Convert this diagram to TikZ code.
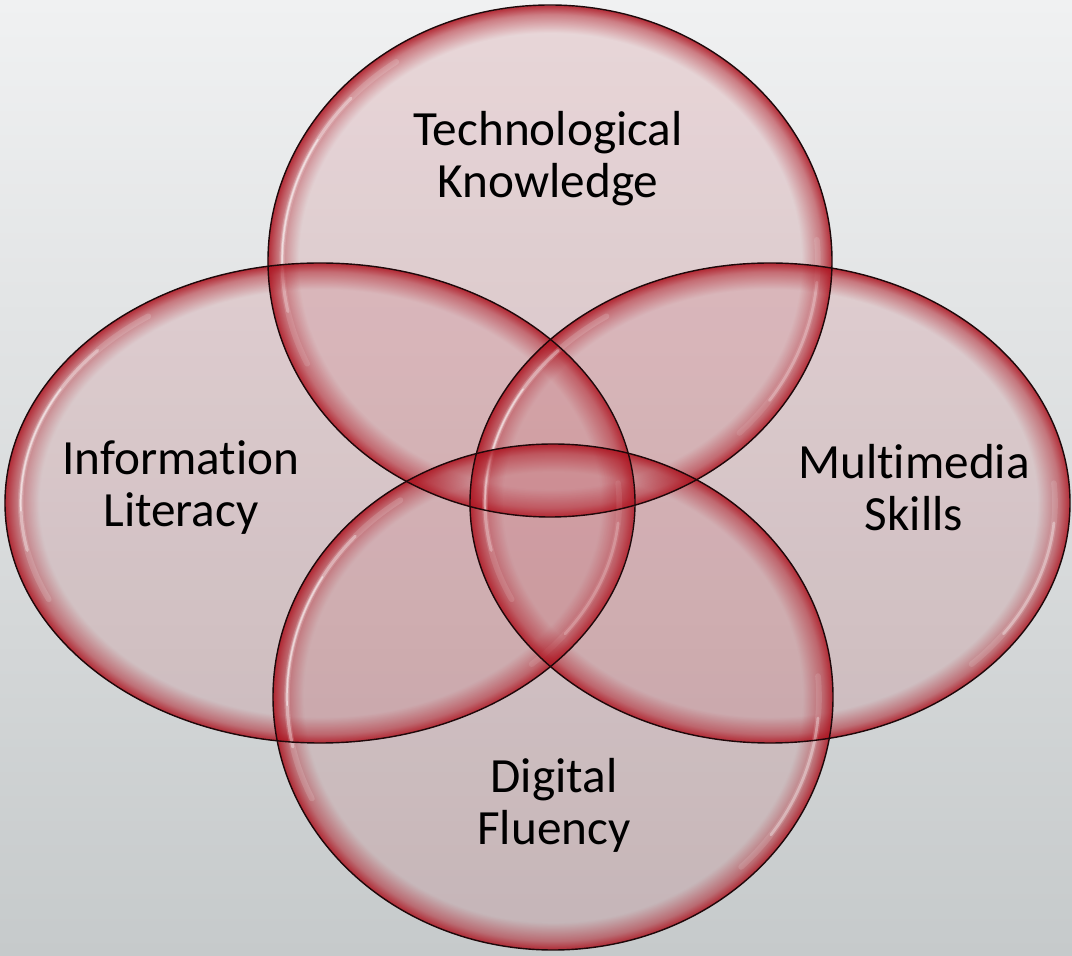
\documentclass[tikz,border=0pt]{standalone}
\usepackage{fontspec}
\setmainfont{Carlito}[Ligatures=NoCommon]
\usepackage{tikz}
\usetikzlibrary{fadings}

\definecolor{bgtop}{RGB}{240,241,242}
\definecolor{bgbot}{RGB}{198,202,203}
\definecolor{setred}{RGB}{190,40,52}
\definecolor{rimred}{RGB}{172,18,30}
\definecolor{setedge}{RGB}{30,8,10}

% red glow along the inner rim of each set
\pgfdeclareradialshading{rimshade}{\pgfpointorigin}{%
  color(0bp)=(pgftransparent!100); color(22.2bp)=(pgftransparent!100);
  color(24bp)=(pgftransparent!50); color(25bp)=(pgftransparent!0);
  color(50bp)=(pgftransparent!0)}
\pgfdeclarefading{rimfade}{\pgfuseshading{rimshade}}

\tikzset{
  setfill/.style={fill=setred, fill opacity=0.13},
  setrim/.style={fill=rimred, fill opacity=0.9, path fading=rimfade},
  setline/.style={draw=setedge, line width=1pt},
  shine/.style={draw=white, line cap=round},
  setlabel/.style={align=center, font=\fontsize{35}{37}\selectfont}
}

\begin{document}
\begin{tikzpicture}[x=0.025cm, y=0.025cm]
  \useasboundingbox (0,0) rectangle (1072,955);
  \shade[top color=bgtop, bottom color=bgbot] (0,0) rectangle (1072,955);

  % sets: centre x / centre y / x radius / y radius
  \foreach \cx/\cy/\rx/\ry in {550/694/282/256, 320/452/315/240, 770/452/300/240, 553/258/280/253}{
    \begin{scope}[shift={(\cx,\cy)}]
      \fill[setfill] (0,0) ellipse[x radius=\rx, y radius=\ry];
      \fill[setrim] (0,0) ellipse[x radius=\rx, y radius=\ry];
      % glossy streaks, soft edge first
      \draw[shine, line width=4pt, draw opacity=0.15] (125:{0.95*\rx} and {0.95*\ry}) arc[start angle=125, end angle=205, x radius=0.95*\rx, y radius=0.95*\ry];
      \draw[shine, line width=2.2pt, draw opacity=0.35] (138:{0.95*\rx} and {0.95*\ry}) arc[start angle=138, end angle=192, x radius=0.95*\rx, y radius=0.95*\ry];
      \draw[shine, line width=1pt, draw opacity=0.5] (150:{0.95*\rx} and {0.95*\ry}) arc[start angle=150, end angle=182, x radius=0.95*\rx, y radius=0.95*\ry];
      \draw[shine, line width=4pt, draw opacity=0.12] (-45:{0.95*\rx} and {0.95*\ry}) arc[start angle=-45, end angle=5, x radius=0.95*\rx, y radius=0.95*\ry];
      \draw[shine, line width=2pt, draw opacity=0.35] (-35:{0.95*\rx} and {0.95*\ry}) arc[start angle=-35, end angle=-5, x radius=0.95*\rx, y radius=0.95*\ry];
    \end{scope}
  }
  % outlines on top
  \foreach \cx/\cy/\rx/\ry in {550/694/282/256, 320/452/315/240, 770/452/300/240, 553/258/280/253}
    \draw[setline] (\cx,\cy) ellipse[x radius=\rx, y radius=\ry];

  \node[setlabel] (tech) at (548,796) {Technological\\Knowledge};
  \node[setlabel] (info) at (181,467) {Information\\Literacy};
  \node[setlabel] (media) at (914,467) {Multimedia\\Skills};
  \node[setlabel] (digital) at (554,150) {Digital\\Fluency};
\end{tikzpicture}
\end{document}
